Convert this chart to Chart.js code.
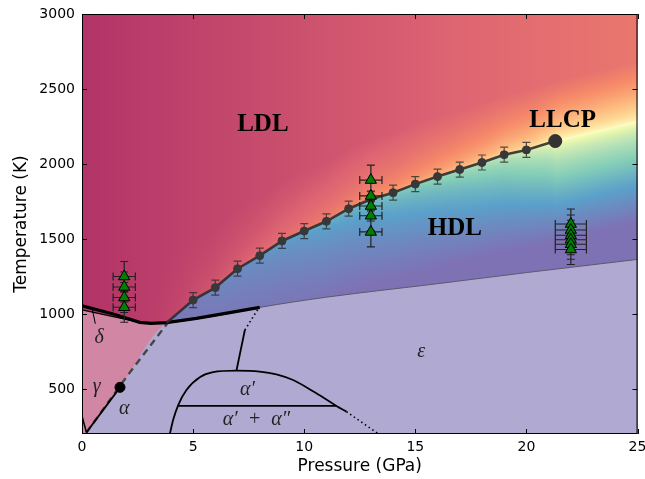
<!DOCTYPE html>
<html>
<head>
<meta charset="utf-8">
<script src="https://cdn.jsdelivr.net/npm/chart.js@4.4.1/dist/chart.umd.min.js"></script>
<style>
  html, body { margin: 0; padding: 0; background: #fff; }
  #wrap { width: 645px; height: 479px; }
</style>
</head>
<body>
<div id="wrap"><canvas id="chart"></canvas></div>
<script>
const xTicks = [0, 5, 10, 15, 20, 25];
const yTicks = [500, 1000, 1500, 2000, 2500, 3000];

// simulated LDL/HDL coexistence points (GPa, K)
const coexP = [5, 6, 7, 8, 9, 10, 11, 12, 13, 14, 15, 16, 17, 18, 19, 20];
const coexT = [1093, 1176, 1302, 1389, 1487, 1553, 1618, 1702, 1765, 1809, 1866, 1916, 1963, 2010, 2062, 2094];
const coexErrT = 50;
// where the coexistence line meets the melting line
const coexEndP = [3.8];
const coexEndT = [940];
// liquid-liquid critical point and the Widom line past it
const llcpP = [21.3];
const llcpT = [2153];
const widomP = [25];
const widomT = [2282];

// experimental points (green triangles)
const exp1P = 1.9;
const exp1T = [1250, 1180, 1110, 1045];
const exp2P = 13;
const exp2T = [1893, 1787, 1720, 1655, 1547];
const exp3P = 22;
const exp3T = [1600, 1560, 1525, 1495, 1465, 1430];
const expErrP = [0.5, 0.5, 0.7];
const expErrT = 100;

// phase boundaries
const meltP = [0, 1.4, 2.6, 3.1, 3.8, 5.15, 6.65, 8];
const meltT = [1055, 1000, 944, 938, 942, 971, 1009, 1044];
const deltaP = [0, 2.6, 3.85];
const deltaT = [1027, 944, 940];
const deltaTickP = [0.45, 0.6];
const deltaTickT = [1040, 935];
const gammaP = [0.2, 2.0, 3.85];
const gammaT = [210, 580, 940];
const alphaP = [0.2, 1.71];
const alphaT = [210, 511];
const cornerP = [0, 0.2];
const cornerT = [320, 210];
const epsP = [3.85, 5.15, 6.65, 8, 11, 16, 20, 25];
const epsT = [940, 966, 1004, 1044, 1112, 1202, 1276, 1364];
const domeP = [3.96, 4.1, 4.33, 4.7, 5.3, 5.9, 6.95, 8.0, 8.75, 9.5, 10.55, 11.45, 11.9];
const domeT = [205, 293, 393, 493, 578, 612, 622, 616, 598, 560, 471, 387, 349];
const domeTailP = [11.9, 13.3];
const domeTailT = [349, 205];
const splitP = [4.33, 11.45];
const splitT = [387, 387];
const stemP = [6.95, 7.33];
const stemT = [622, 893];
const stemTailP = [7.33, 7.95];
const stemTailT = [893, 1040];

// phase names
const phaseNames = ['LDL', 'HDL', 'LLCP', 'δ', 'γ', 'α', 'α′', 'α′  +  α″', 'ε'];
const nameP = [8.14, 16.78, 21.63, 0.77, 0.66, 1.9, 7.45, 7.85, 15.27];
const nameT = [2263, 1567, 2287, 840, 513, 367, 493, 293, 747];

const pts = (P, T) => P.map((p, i) => ({ x: p, y: T[i] }));

// full coexistence + widom curve, used for colouring the liquid
const lineP = coexEndP.concat(coexP, llcpP, widomP);
const lineT = coexEndT.concat(coexT, llcpT, widomT);
const Pc = llcpP[0];

function lineAt(P) {
  if (P <= lineP[0]) return lineT[0];
  for (let i = 1; i < lineP.length; i++) {
    if (P <= lineP[i]) {
      const f = (P - lineP[i - 1]) / (lineP[i] - lineP[i - 1]);
      return lineT[i - 1] + f * (lineT[i] - lineT[i - 1]);
    }
  }
  const n = lineP.length - 1;
  return lineT[n] + (P - lineP[n]) * (lineT[n] - lineT[n - 1]) / (lineP[n] - lineP[n - 1]);
}

function density(P, T) {
  const h = T - lineAt(P);
  const J = Math.min(1, 1.1 * Math.pow(Math.max(0, (Pc - P) / Pc), 0.6));
  const hdlScale = 400 + 270 * Math.min(1, P / Pc);
  let m;
  if (h >= 0) m = Math.min(1, J + (1 - J) * Math.sqrt(h / 400)) * (1 - 0.3 * P / 25);
  else m = -Math.min(1, J + (1 - J) * Math.sqrt(-h / hdlScale));
  return 0.5 - 0.5 * m;
}

const spectral = [[158,1,66],[213,62,79],[244,109,67],[253,174,97],[254,224,139],[255,255,191],
                  [230,245,152],[171,221,164],[102,194,165],[50,136,189],[94,79,162]];
function cmap(v) {
  v = Math.max(0, Math.min(1, v));
  const f = v * 10, i = Math.min(9, Math.floor(f)), r = f - i;
  const a = spectral[i], b = spectral[i + 1];
  return [0, 1, 2].map(k => Math.round(0.8 * (a[k] + (b[k] - a[k]) * r) + 0.2 * 255));
}

const phaseField = {
  id: 'phaseField',
  beforeDatasetsDraw(chart) {
    const { ctx, chartArea: a, scales: { x, y } } = chart;
    const w = Math.round(a.right - a.left), h = Math.round(a.bottom - a.top);
    const off = document.createElement('canvas');
    off.width = w; off.height = h;
    const octx = off.getContext('2d');
    const img = octx.createImageData(w, h);
    for (let j = 0; j < h; j++) {
      const T = y.getValueForPixel(a.top + j + 0.5);
      for (let i = 0; i < w; i++) {
        const c = cmap(density(x.getValueForPixel(a.left + i + 0.5), T));
        const k = (j * w + i) * 4;
        img.data[k] = c[0]; img.data[k + 1] = c[1]; img.data[k + 2] = c[2]; img.data[k + 3] = 255;
      }
    }
    octx.putImageData(img, 0, 0);
    ctx.drawImage(off, a.left, a.top);
  }
};

const errorBars = {
  id: 'errorBars',
  beforeDatasetDraw(chart, args) {
    const ds = chart.data.datasets[args.index];
    if (!ds.errT && !ds.errP) return;
    const { ctx, scales: { x, y } } = chart;
    const cap = 4;
    ctx.save();
    ctx.strokeStyle = ds.errColor;
    ctx.lineWidth = 1.2;
    ctx.beginPath();
    ds.data.forEach(d => {
      const px = x.getPixelForValue(d.x), py = y.getPixelForValue(d.y);
      if (ds.errT) {
        const y0 = y.getPixelForValue(d.y - ds.errT), y1 = y.getPixelForValue(d.y + ds.errT);
        ctx.moveTo(px, y0); ctx.lineTo(px, y1);
        ctx.moveTo(px - cap, y0); ctx.lineTo(px + cap, y0);
        ctx.moveTo(px - cap, y1); ctx.lineTo(px + cap, y1);
      }
      if (ds.errP) {
        const x0 = x.getPixelForValue(d.x - ds.errP), x1 = x.getPixelForValue(d.x + ds.errP);
        ctx.moveTo(x0, py); ctx.lineTo(x1, py);
        ctx.moveTo(x0, py - cap); ctx.lineTo(x0, py + cap);
        ctx.moveTo(x1, py - cap); ctx.lineTo(x1, py + cap);
      }
    });
    ctx.stroke();
    ctx.restore();
  }
};

const frameAndNames = {
  id: 'frameAndNames',
  afterDatasetsDraw(chart) {
    const { ctx, chartArea: a, scales: { x, y } } = chart;
    ctx.save();
    ctx.textAlign = 'center';
    ctx.textBaseline = 'middle';
    phaseNames.forEach((t, i) => {
      ctx.font = i < 3 ? 'bold 25px "Liberation Serif"' : 'italic 20px "Liberation Serif"';
      ctx.fillStyle = i < 3 ? '#000' : '#222';
      ctx.fillText(t, x.getPixelForValue(nameP[i]), y.getPixelForValue(nameT[i]));
    });
    // inward ticks on all four sides
    ctx.strokeStyle = '#000';
    ctx.lineWidth = 1;
    ctx.beginPath();
    xTicks.forEach(v => {
      const px = Math.round(x.getPixelForValue(v)) + 0.5;
      ctx.moveTo(px, a.bottom); ctx.lineTo(px, a.bottom - 5);
      ctx.moveTo(px, a.top); ctx.lineTo(px, a.top + 5);
    });
    yTicks.forEach(v => {
      const py = Math.round(y.getPixelForValue(v)) + 0.5;
      ctx.moveTo(a.left, py); ctx.lineTo(a.left + 5, py);
      ctx.moveTo(a.right, py); ctx.lineTo(a.right - 5, py);
    });
    ctx.stroke();
    ctx.strokeRect(a.left + 0.5, a.top + 0.5, a.right - a.left - 1, a.bottom - a.top - 1);
    ctx.restore();
  }
};

const lineDs = (P, T, extra) => Object.assign({
  data: pts(P, T), showLine: true, pointRadius: 0, borderColor: '#000',
  borderWidth: 1.6, tension: 0, fill: false
}, extra);

const datasets = [
  { data: pts(llcpP, llcpT), showLine: false, pointRadius: 6.5,
    backgroundColor: '#333', borderColor: '#333' },
  { data: exp1T.map(t => ({ x: exp1P, y: t })), showLine: false, pointStyle: 'triangle', pointRadius: 6.5,
    backgroundColor: '#008000', borderColor: '#000', borderWidth: 1, errT: expErrT, errP: expErrP[0], errColor: '#222' },
  { data: exp2T.map(t => ({ x: exp2P, y: t })), showLine: false, pointStyle: 'triangle', pointRadius: 6.5,
    backgroundColor: '#008000', borderColor: '#000', borderWidth: 1, errT: expErrT, errP: expErrP[1], errColor: '#222' },
  { data: exp3T.map(t => ({ x: exp3P, y: t })), showLine: false, pointStyle: 'triangle', pointRadius: 6.5,
    backgroundColor: '#008000', borderColor: '#000', borderWidth: 1, errT: expErrT, errP: expErrP[2], errColor: '#222' },
  { data: pts(coexP, coexT), showLine: false, pointRadius: 4,
    backgroundColor: '#383838', borderColor: '#383838', errT: coexErrT, errColor: 'rgba(45,45,45,0.8)' },
  lineDs(coexEndP.concat(coexP, llcpP), coexEndT.concat(coexT, llcpT), { borderColor: 'rgba(45,45,45,0.9)', borderWidth: 2.6 }),
  lineDs(meltP, meltT, { borderWidth: 3.2 }),
  lineDs(deltaTickP, deltaTickT, { borderWidth: 1 }),
  lineDs(alphaP, alphaT, { borderWidth: 1.8 }),
  { data: pts(alphaP.slice(1), alphaT.slice(1)), showLine: false, pointRadius: 5,
    backgroundColor: '#000', borderColor: '#000' },
  lineDs(cornerP, cornerT, { borderWidth: 1.5 }),
  lineDs(domeP, domeT, { borderWidth: 1.8, cubicInterpolationMode: 'monotone' }),
  lineDs(domeTailP, domeTailT, { borderWidth: 1.6, borderDash: [1.5, 3] }),
  lineDs(splitP, splitT, { borderWidth: 1.8 }),
  lineDs(stemP, stemT, { borderWidth: 1.8 }),
  lineDs(stemTailP, stemTailT, { borderWidth: 1.6, borderDash: [1.5, 3] }),
  lineDs(gammaP, gammaT, { borderColor: '#454545', borderWidth: 2.4, borderDash: [7, 5] }),
  lineDs(epsP, epsT, { borderColor: '#5a5a6a', borderWidth: 1, cubicInterpolationMode: 'monotone' }),
  lineDs(gammaP.concat(epsP.slice(1)), gammaT.concat(epsT.slice(1)),
    { borderWidth: 0, fill: 'start', backgroundColor: 'rgb(176,170,210)', cubicInterpolationMode: 'monotone' }),
  lineDs(deltaP, deltaT, { borderWidth: 1.2, fill: 'start', backgroundColor: 'rgb(209,135,164)' })
];

new Chart(document.getElementById('chart'), {
  type: 'line',
  data: { datasets: datasets },
  options: {
    responsive: true,
    maintainAspectRatio: false,
    animation: false,
    layout: { padding: { top: 14, right: 7, left: 0, bottom: 0 } },
    plugins: { legend: { display: false }, tooltip: { enabled: false } },
    scales: {
      x: {
        type: 'linear', min: 0, max: 25,
        afterBuildTicks: s => { s.ticks = xTicks.map(v => ({ value: v })); },
        afterFit: s => { s.height = 45; s.paddingLeft = 0; s.paddingRight = 0; },
        grid: { display: false, drawTicks: false },
        border: { display: false },
        ticks: { color: '#000', padding: 5, maxRotation: 0, callback: v => String(v),
                 font: { family: 'DejaVu Sans', size: 14 } },
        title: { display: true, text: 'Pressure (GPa)', color: '#000',
                 font: { family: 'DejaVu Sans', size: 17 }, padding: { top: 0, bottom: 2 } }
      },
      y: {
        type: 'linear', min: 200, max: 3000,
        afterBuildTicks: s => { s.ticks = yTicks.map(v => ({ value: v })); },
        afterFit: s => { s.width = 82; s.paddingTop = 0; s.paddingBottom = 0; },
        grid: { display: false, drawTicks: false },
        border: { display: false },
        ticks: { color: '#000', padding: 7, callback: v => String(v),
                 font: { family: 'DejaVu Sans', size: 14 } },
        title: { display: true, text: 'Temperature (K)', color: '#000',
                 font: { family: 'DejaVu Sans', size: 17 }, padding: { top: 11, bottom: 0 } }
      }
    }
  },
  plugins: [phaseField, errorBars, frameAndNames]
});
</script>
</body>
</html>
